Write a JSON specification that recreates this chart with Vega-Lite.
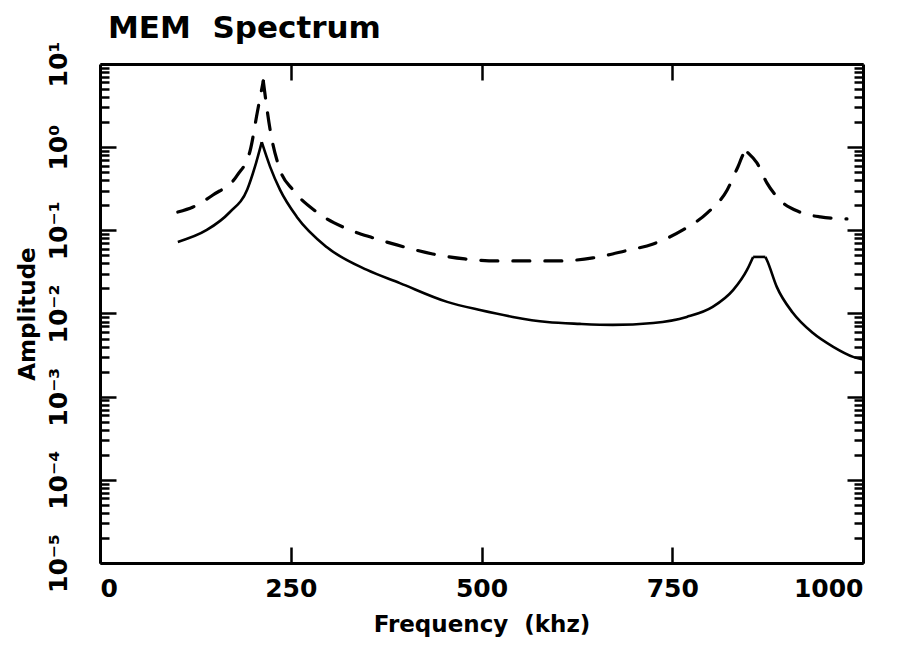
{
  "$schema": "https://vega.github.io/schema/vega-lite/v6.json",
  "width": 763,
  "height": 499,
  "autosize": {"type": "none"},
  "padding": {"left": 100, "top": 64, "right": 40, "bottom": 83},
  "background": "white",
  "title": {"text": "MEM\u00a0 Spectrum", "anchor": "start", "frame": "group", "font": "DejaVu Sans", "fontSize": 31, "fontWeight": "bold", "color": "black", "offset": -4, "dx": 8},
  "config": {
    "view": {"stroke": null},
    "axis": {
      "grid": false,
      "domainColor": "black",
      "domainWidth": 3,
      "tickColor": "black",
      "tickWidth": 2.5,
      "labelFont": "DejaVu Sans",
      "labelFontWeight": "bold",
      "labelFontSize": 25,
      "labelColor": "black",
      "titleFont": "DejaVu Sans",
      "titleFontWeight": "bold",
      "titleFontSize": 23,
      "titleColor": "black",
      "labelOverlap": false,
      "labelBound": false
    }
  },
  "datasets": {
    "solid": [
      {"f": 102, "a": 0.0726, "seg": 1}, {"f": 140, "a": 0.101, "seg": 1}, {"f": 170, "a": 0.165, "seg": 1}, {"f": 193, "a": 0.31, "seg": 1},
      {"f": 203, "a": 0.578, "seg": 1}, {"f": 212, "a": 1.15, "seg": 1},
      {"f": 212, "a": 1.15, "seg": 2}, {"f": 223, "a": 0.58, "seg": 2}, {"f": 236, "a": 0.306, "seg": 2},
      {"f": 258, "a": 0.145, "seg": 2}, {"f": 297, "a": 0.063, "seg": 2}, {"f": 350, "a": 0.0334, "seg": 2}, {"f": 393, "a": 0.0232, "seg": 2},
      {"f": 455, "a": 0.0138, "seg": 2}, {"f": 498, "a": 0.011, "seg": 2}, {"f": 541, "a": 0.0091, "seg": 2},
      {"f": 586, "a": 0.0079, "seg": 2}, {"f": 629, "a": 0.0075, "seg": 2}, {"f": 672, "a": 0.0073, "seg": 2}, {"f": 725, "a": 0.0077, "seg": 2},
      {"f": 769, "a": 0.0091, "seg": 2}, {"f": 803, "a": 0.012, "seg": 2}, {"f": 830, "a": 0.0192, "seg": 2}, {"f": 848, "a": 0.0334, "seg": 2},
      {"f": 856, "a": 0.0479, "seg": 2},
      {"f": 856, "a": 0.0479, "seg": 3}, {"f": 872, "a": 0.0479, "seg": 3},
      {"f": 872, "a": 0.0479, "seg": 4}, {"f": 874, "a": 0.044, "seg": 4}, {"f": 887, "a": 0.0209, "seg": 4},
      {"f": 908, "a": 0.0102, "seg": 4}, {"f": 934, "a": 0.00585, "seg": 4}, {"f": 961, "a": 0.00397, "seg": 4}, {"f": 987, "a": 0.00301, "seg": 4},
      {"f": 1000, "a": 0.0028, "seg": 4}
    ],
    "dashed": [
      {"f": 102, "a": 0.166, "seg": 1}, {"f": 122, "a": 0.191, "seg": 1}, {"f": 148, "a": 0.266, "seg": 1}, {"f": 180, "a": 0.46, "seg": 1},
      {"f": 197, "a": 0.925, "seg": 1}, {"f": 206, "a": 2.58, "seg": 1}, {"f": 214, "a": 6.25, "seg": 1},
      {"f": 214, "a": 6.25, "seg": 2}, {"f": 223, "a": 1.61, "seg": 2},
      {"f": 236, "a": 0.532, "seg": 2}, {"f": 253, "a": 0.306, "seg": 2}, {"f": 284, "a": 0.166, "seg": 2}, {"f": 318, "a": 0.11, "seg": 2},
      {"f": 358, "a": 0.081, "seg": 2}, {"f": 389, "a": 0.0668, "seg": 2}, {"f": 436, "a": 0.052, "seg": 2}, {"f": 478, "a": 0.0453, "seg": 2},
      {"f": 520, "a": 0.0429, "seg": 2}, {"f": 561, "a": 0.0429, "seg": 2}, {"f": 603, "a": 0.0429, "seg": 2}, {"f": 646, "a": 0.0466, "seg": 2},
      {"f": 688, "a": 0.0565, "seg": 2}, {"f": 725, "a": 0.0687, "seg": 2}, {"f": 764, "a": 0.101, "seg": 2}, {"f": 796, "a": 0.162, "seg": 2},
      {"f": 822, "a": 0.306, "seg": 2}, {"f": 836, "a": 0.578, "seg": 2}, {"f": 845, "a": 0.851, "seg": 2}, {"f": 849, "a": 0.86, "seg": 2},
      {"f": 849, "a": 0.86, "seg": 3}, {"f": 861, "a": 0.646, "seg": 3}, {"f": 874, "a": 0.372, "seg": 3}, {"f": 891, "a": 0.232, "seg": 3}, {"f": 917, "a": 0.166, "seg": 3},
      {"f": 944, "a": 0.145, "seg": 3}, {"f": 979, "a": 0.137, "seg": 3}
    ]
  },
  "layer": [
    {
      "data": {"name": "solid"},
      "mark": {"type": "line", "color": "black", "strokeWidth": 2.6, "interpolate": "monotone", "clip": true},
      "encoding": {
        "detail": {"field": "seg", "type": "nominal"},
        "x": {
          "field": "f", "type": "quantitative",
          "scale": {"domain": [0, 1000], "nice": false, "zero": false},
          "axis": {"orient": "bottom", "values": [0, 250, 500, 750, 1000], "format": "d", "tickSize": -16, "labelPadding": 29, "title": "Frequency\u00a0 (khz)", "titlePadding": 12}
        },
        "y": {
          "field": "a", "type": "quantitative",
          "scale": {"type": "log", "domain": [0.00001, 10], "nice": false},
          "axis": {
            "orient": "left",
            "values": [0.00001,0.00002,0.00003,0.00004,0.00005,0.00006,0.00007,0.00008,0.00009,
                       0.0001,0.0002,0.0003,0.0004,0.0005,0.0006,0.0007,0.0008,0.0009,
                       0.001,0.002,0.003,0.004,0.005,0.006,0.007,0.008,0.009,
                       0.01,0.02,0.03,0.04,0.05,0.06,0.07,0.08,0.09,
                       0.1,0.2,0.3,0.4,0.5,0.6,0.7,0.8,0.9,
                       1,2,3,4,5,6,7,8,9,10],
            "labelExpr": "abs(log(datum.value)/LN10 - round(log(datum.value)/LN10)) < 0.000001 ? {'1':'10¹','0':'10⁰','-1':'10⁻¹','-2':'10⁻²','-3':'10⁻³','-4':'10⁻⁴','-5':'10⁻⁵'}['' + round(log(datum.value)/LN10)] : ''",
            "labelAngle": 270,
            "labelAlign": "center",
            "labelBaseline": "bottom",
            "labelPadding": 45,
            "tickSize": {"condition": {"test": "abs(log(datum.value)/LN10 - round(log(datum.value)/LN10)) < 0.000001", "value": -16}, "value": -9},
            "title": "Amplitude",
            "titlePadding": 0
          }
        }
      }
    },
    {
      "data": {"name": "dashed"},
      "mark": {"type": "line", "color": "black", "strokeWidth": 3.2, "strokeDash": [17, 15], "strokeCap": "round", "interpolate": "monotone", "clip": true},
      "encoding": {
        "detail": {"field": "seg", "type": "nominal"},
        "x": {
          "field": "f", "type": "quantitative",
          "scale": {"domain": [0, 1000], "nice": false, "zero": false},
          "axis": {"orient": "top", "values": [250, 500, 750], "tickSize": -16, "labels": false, "title": null}
        },
        "y": {
          "field": "a", "type": "quantitative",
          "scale": {"type": "log", "domain": [0.00001, 10], "nice": false},
          "axis": {
            "orient": "right",
            "values": [0.00001,0.00002,0.00003,0.00004,0.00005,0.00006,0.00007,0.00008,0.00009,
                       0.0001,0.0002,0.0003,0.0004,0.0005,0.0006,0.0007,0.0008,0.0009,
                       0.001,0.002,0.003,0.004,0.005,0.006,0.007,0.008,0.009,
                       0.01,0.02,0.03,0.04,0.05,0.06,0.07,0.08,0.09,
                       0.1,0.2,0.3,0.4,0.5,0.6,0.7,0.8,0.9,
                       1,2,3,4,5,6,7,8,9,10],
            "labels": false,
            "tickSize": {"condition": {"test": "abs(log(datum.value)/LN10 - round(log(datum.value)/LN10)) < 0.000001", "value": -16}, "value": -9},
            "title": null
          }
        }
      }
    }
  ],
  "resolve": {"axis": {"x": "independent", "y": "independent"}}
}
